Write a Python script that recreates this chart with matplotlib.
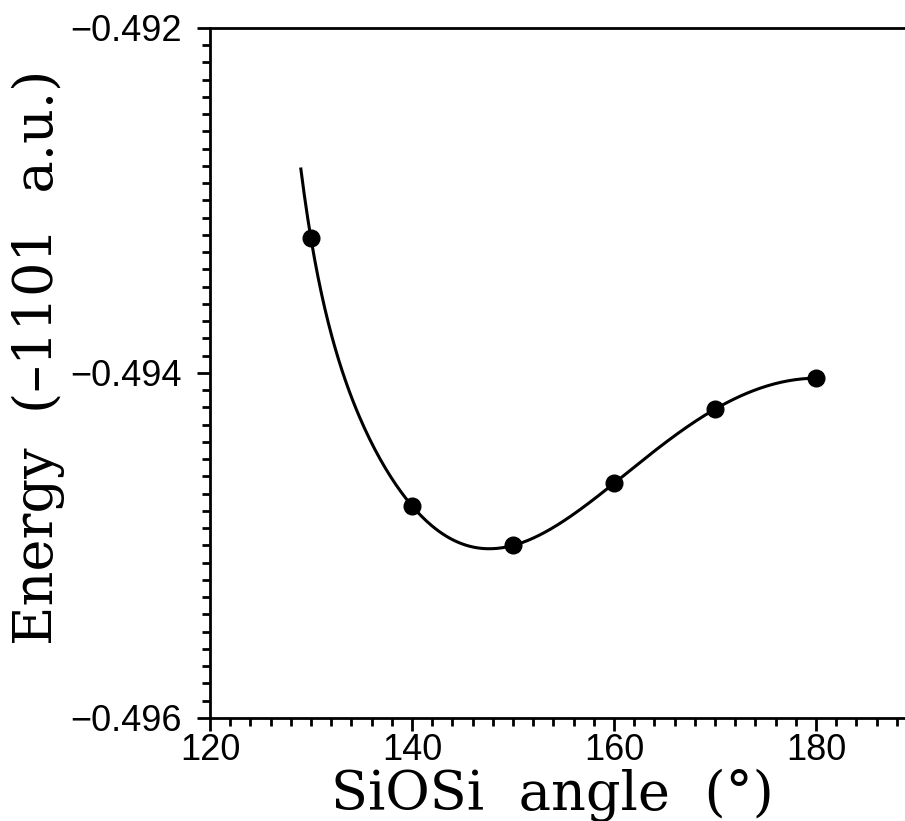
import matplotlib
matplotlib.use("Agg")
import matplotlib.pyplot as plt
from matplotlib.ticker import MultipleLocator, FuncFormatter
import numpy as np

# SiOSi angle (deg) and total energy offset by -1101 a.u.
angle = [130, 140, 150, 160, 170, 180]
energy = [-0.49322, -0.49477, -0.49500, -0.49464, -0.49421, -0.49403]

# smooth curve through the computed points (polynomial in 1/(angle-90))
x = np.array(angle, dtype=float)
coef = np.polyfit(1 / (x - 90), energy, 5)
xs = np.linspace(129, 180, 300)
ys = np.polyval(coef, 1 / (xs - 90))

fig = plt.figure(figsize=(9.05, 8.21), dpi=100)
ax = fig.add_axes([0.232, 0.1255, 0.7812, 0.8404])

ax.plot(xs, ys, color="black", lw=2.2)
ax.plot(angle, energy, "o", color="black", ms=12)

ax.set_xlim(120, 190)
ax.set_ylim(-0.496, -0.492)

ax.xaxis.set_major_locator(MultipleLocator(20))
ax.xaxis.set_minor_locator(MultipleLocator(2))
ax.yaxis.set_major_locator(MultipleLocator(0.002))
ax.yaxis.set_minor_locator(MultipleLocator(0.0001))
ax.yaxis.set_major_formatter(FuncFormatter(lambda v, p: f"{v:.3f}".replace("-", "\u2212")))

for s in ax.spines.values():
    s.set_linewidth(2)

ax.tick_params(which="both", direction="out", width=2, top=False, right=False)
ax.tick_params(which="major", length=9.5)
ax.tick_params(which="minor", length=5.8)
ax.tick_params(axis="y", which="major", pad=11)
ax.tick_params(axis="x", which="major", pad=1)
for lab in ax.get_xticklabels() + ax.get_yticklabels():
    lab.set_fontfamily("Liberation Sans")
    lab.set_fontsize(26)

ax.set_xlabel("SiOSi  angle  (\u00b0)", fontfamily="DejaVu Serif", fontsize=39, va="baseline")
ax.xaxis.set_label_coords(0.484, -0.133)
ax.set_ylabel("Energy  (\u20131101  a.u.)", fontfamily="DejaVu Serif", fontsize=39, va="baseline")
ax.yaxis.set_label_coords(-0.222, 0.523)

fig.savefig("out.png", dpi=100)
